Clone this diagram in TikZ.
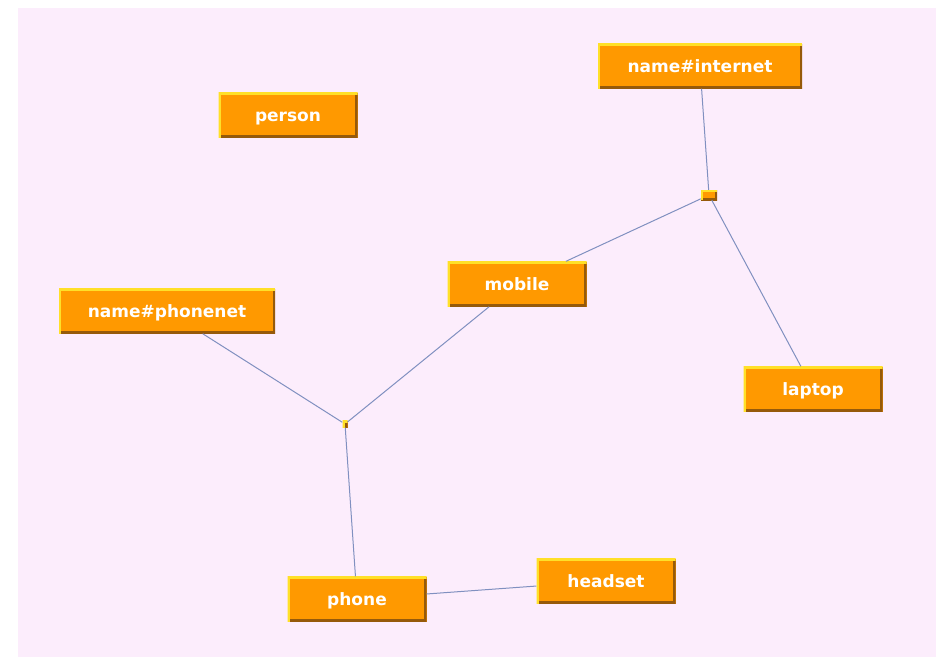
\documentclass[tikz,border=0pt]{standalone}
\usepackage{fontspec}
\newfontfamily\labelfont{DejaVu Sans}
\definecolor{canvas}{RGB}{252,237,252}
\definecolor{boxorange}{RGB}{255,153,0}
\definecolor{boxlight}{RGB}{255,224,40}
\definecolor{boxdark}{RGB}{150,90,10}
\definecolor{linkblue}{RGB}{128,144,192}
\tikzset{
  bevel/.style={
    path picture={
      \draw[boxdark, line width=5pt]
        (path picture bounding box.north east) -- (path picture bounding box.south east)
        -- (path picture bounding box.south west);
      \draw[boxlight, line width=4pt]
        (path picture bounding box.south west) -- (path picture bounding box.north west)
        -- (path picture bounding box.north east);
    }},
  entity/.style={bevel, fill=boxorange, minimum width=139pt, minimum height=45pt,
    inner sep=0pt, text height=12.5pt, text depth=0pt, text=white,
    font=\labelfont\bfseries\fontsize{17}{20}\selectfont},
  junction/.style={bevel, fill=boxorange, inner sep=0pt},
  link/.style={draw=linkblue, line width=1pt}
}
\begin{document}
\begin{tikzpicture}[x=1pt, y=-1pt]
  \useasboundingbox (0,0) rectangle (936,659);
  \fill[white] (0,0) rectangle (936,659);
  \fill[canvas] (18,8) rectangle (936,657);

  % entity boxes
  \node[entity] (person)   at (288,115) {person};
  \node[entity, minimum width=204pt] (internet) at (700,66) {name\#internet};
  \node[entity] (mobile)   at (517,284) {mobile};
  \node[entity, minimum width=216pt] (phonenet) at (167,311) {name\#phonenet};
  \node[entity] (laptop)   at (813,389) {laptop};
  \node[entity] (phone)    at (357,599) {phone};
  \node[entity] (headset)  at (606,581) {headset};

  % relation junctions
  \node[junction, minimum width=16pt, minimum height=10pt] (netjoin) at (709,195) {};
  \node[junction, minimum width=5pt, minimum height=7pt] (phonejoin) at (345,424) {};

  % links
  \draw[link] (internet) -- (netjoin);
  \draw[link] (netjoin) -- (mobile);
  \draw[link] (netjoin) -- (laptop);
  \draw[link] (phonenet) -- (phonejoin);
  \draw[link] (mobile) -- (phonejoin);
  \draw[link] (phonejoin) -- (phone);
  \draw[link] (phone) -- (headset);
\end{tikzpicture}
\end{document}
